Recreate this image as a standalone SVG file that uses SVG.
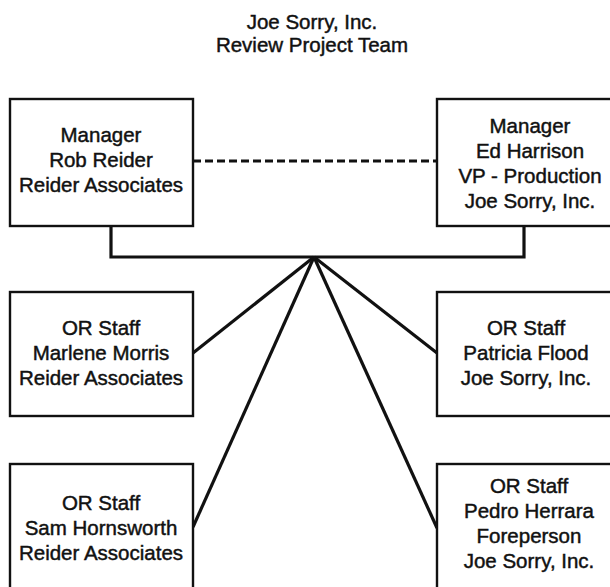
<svg xmlns="http://www.w3.org/2000/svg" width="610" height="587" viewBox="0 0 610 587">
<style>
.box{fill:#fff;stroke:#111;stroke-width:2.4}
.t{font-family:"Liberation Sans",Arial,sans-serif;font-size:20.5px;fill:#111;stroke:#111;stroke-width:0.45;text-anchor:middle}
.c{fill:none;stroke:#111;stroke-width:3.2;stroke-linejoin:miter}
</style>
<rect width="610" height="587" fill="#fff"/>
<g id="title">
<text class="t" x="312" y="29">Joe Sorry, Inc.</text>
<text class="t" x="312" y="52">Review Project Team</text>
</g>
<g id="connectors">
<line class="c" x1="193" y1="161" x2="437" y2="161" stroke-dasharray="8,4"/>
<polyline class="c" points="111,226 111,257 524,257 524,226"/>
<line class="c" x1="314" y1="257" x2="193" y2="353"/>
<line class="c" x1="314" y1="257" x2="437" y2="353"/>
<line class="c" x1="314" y1="257" x2="193" y2="527"/>
<line class="c" x1="314" y1="257" x2="437" y2="528"/>
</g>
<g id="mgr-reider">
<rect class="box" x="10" y="99" width="183" height="127"/>
<text class="t" x="101" y="142">Manager</text>
<text class="t" x="101" y="167">Rob Reider</text>
<text class="t" x="101" y="192">Reider Associates</text>
</g>
<g id="mgr-harrison">
<rect class="box" x="437" y="99" width="200" height="127"/>
<text class="t" x="530" y="133">Manager</text>
<text class="t" x="530" y="158">Ed Harrison</text>
<text class="t" x="530" y="183">VP - Production</text>
<text class="t" x="530" y="208">Joe Sorry, Inc.</text>
</g>
<g id="staff-morris">
<rect class="box" x="10" y="292" width="183" height="124"/>
<text class="t" x="101" y="335">OR Staff</text>
<text class="t" x="101" y="360">Marlene Morris</text>
<text class="t" x="101" y="385">Reider Associates</text>
</g>
<g id="staff-flood">
<rect class="box" x="437" y="292" width="200" height="124"/>
<text class="t" x="526" y="335">OR Staff</text>
<text class="t" x="526" y="360">Patricia Flood</text>
<text class="t" x="526" y="385">Joe Sorry, Inc.</text>
</g>
<g id="staff-hornsworth">
<rect class="box" x="10" y="464" width="183" height="140"/>
<text class="t" x="101" y="510">OR Staff</text>
<text class="t" x="101" y="535">Sam Hornsworth</text>
<text class="t" x="101" y="560">Reider Associates</text>
</g>
<g id="staff-herrara">
<rect class="box" x="437" y="464" width="200" height="140"/>
<text class="t" x="529" y="493">OR Staff</text>
<text class="t" x="529" y="518">Pedro Herrara</text>
<text class="t" x="529" y="543">Foreperson</text>
<text class="t" x="529" y="568">Joe Sorry, Inc.</text>
</g>
</svg>
